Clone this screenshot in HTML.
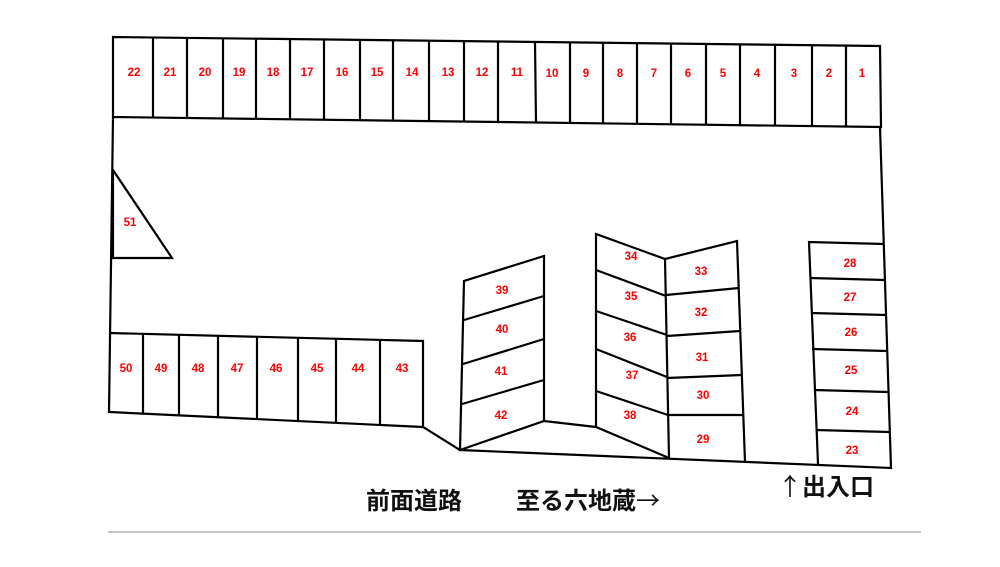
<!DOCTYPE html>
<html><head><meta charset="utf-8"><style>
html,body{margin:0;padding:0;background:#fff;}
svg text.n{font-family:"Liberation Sans",sans-serif;font-size:11.5px;font-weight:bold;fill:#f00;text-anchor:middle;}
svg text.j{font-family:"Liberation Sans","Noto Sans CJK JP",sans-serif;font-size:24px;font-weight:bold;fill:#111;}
svg tspan.a{font-family:"Noto Sans CJK JP",sans-serif;font-weight:normal;}
</style></head><body>
<svg width="1000" height="562" viewBox="0 0 1000 562" xmlns="http://www.w3.org/2000/svg">
<g fill="none" stroke="#000" stroke-width="2.2" stroke-linejoin="miter">
<polygon points="113,37 880,46 881,127 113,117"/>
<path d="M153,38V118 M187,38V118 M223,39V119 M256,39V119 M290,40V120 M324,40V120 M360,40V120 M393,41V121 M429,41V121 M464,42V122 M498,42V122 M535,42L536,123 M570,43V123 M603,43V124 M637,44V124 M671,44V125 M706,45V125 M740,45V126 M775,45V126 M812,46V126 M846,46V127"/>
<path d="M113,117 L109,412 L423,427 L460,450 L891,468 L880,127"/>
<path d="M109,333 L423,341 L423,427"/>
<path d="M143,334V414 M179,335V415 M218,336V417 M257,337V419 M298,338V421 M336,339V423 M380,340V425"/>
<polygon points="113,170 172,258 113,258"/>
<path d="M460,450 L464,281 L544,256 L544,421 Z"/>
<path d="M464,320 L544,296 M463,364 L544,339 M462,404 L544,380"/>
<path d="M544,421 L596,427"/>
<path d="M596,427 L596,234 L665,259 L669,458"/>
<path d="M596,427 L669,458"/>
<path d="M596,270 L666,296 M596,311 L667,335 M596,349 L667,377 M596,391 L668,415"/>
<path d="M665,259 L737,241 L745,462"/>
<path d="M666,295 L739,288 M667,336 L740,331 M667,378 L742,375 M668,415 L743,415"/>
<path d="M818,464 L809,242 L884,244"/>
<path d="M810,278 L885,280 M811,313 L886,315 M812,349 L887,351 M814,390 L888,392 M816,430 L889,432"/>
</g>
<line x1="108" y1="532" x2="921" y2="532" stroke="#888" stroke-width="1"/>
<g>
<text class="n" x="134" y="76">22</text><text class="n" x="170" y="76">21</text><text class="n" x="205" y="76">20</text><text class="n" x="239" y="76">19</text><text class="n" x="273" y="76">18</text><text class="n" x="307" y="76">17</text><text class="n" x="342" y="76">16</text><text class="n" x="377" y="76">15</text><text class="n" x="412" y="76">14</text><text class="n" x="448" y="76">13</text><text class="n" x="482" y="76">12</text><text class="n" x="517" y="76">11</text><text class="n" x="552" y="77">10</text><text class="n" x="586" y="77">9</text><text class="n" x="620" y="77">8</text><text class="n" x="654" y="77">7</text><text class="n" x="688" y="77">6</text><text class="n" x="723" y="77">5</text><text class="n" x="757" y="77">4</text><text class="n" x="794" y="77">3</text><text class="n" x="829" y="77">2</text><text class="n" x="862" y="77">1</text>
<text class="n" x="130" y="226">51</text>
<text class="n" x="126" y="372">50</text><text class="n" x="161" y="372">49</text><text class="n" x="198" y="372">48</text><text class="n" x="237" y="372">47</text><text class="n" x="276" y="372">46</text><text class="n" x="317" y="372">45</text><text class="n" x="358" y="372">44</text><text class="n" x="402" y="372">43</text>
<text class="n" x="502" y="294">39</text><text class="n" x="502" y="333">40</text><text class="n" x="501" y="375">41</text><text class="n" x="501" y="419">42</text>
<text class="n" x="631" y="260">34</text><text class="n" x="631" y="300">35</text><text class="n" x="630" y="341">36</text><text class="n" x="632" y="379">37</text><text class="n" x="630" y="419">38</text>
<text class="n" x="701" y="275">33</text><text class="n" x="701" y="316">32</text><text class="n" x="702" y="361">31</text><text class="n" x="703" y="399">30</text><text class="n" x="703" y="443">29</text>
<text class="n" x="850" y="267">28</text><text class="n" x="850" y="301">27</text><text class="n" x="851" y="336">26</text><text class="n" x="851" y="374">25</text><text class="n" x="852" y="415">24</text><text class="n" x="852" y="454">23</text>
</g>
<text class="j" x="366" y="509">前面道路</text>
<text class="j" x="516" y="509">至る六地蔵<tspan class="a">→</tspan></text>
<text class="j" x="778" y="495"><tspan class="a">↑</tspan>出入口</text>
</svg>
</body></html>
